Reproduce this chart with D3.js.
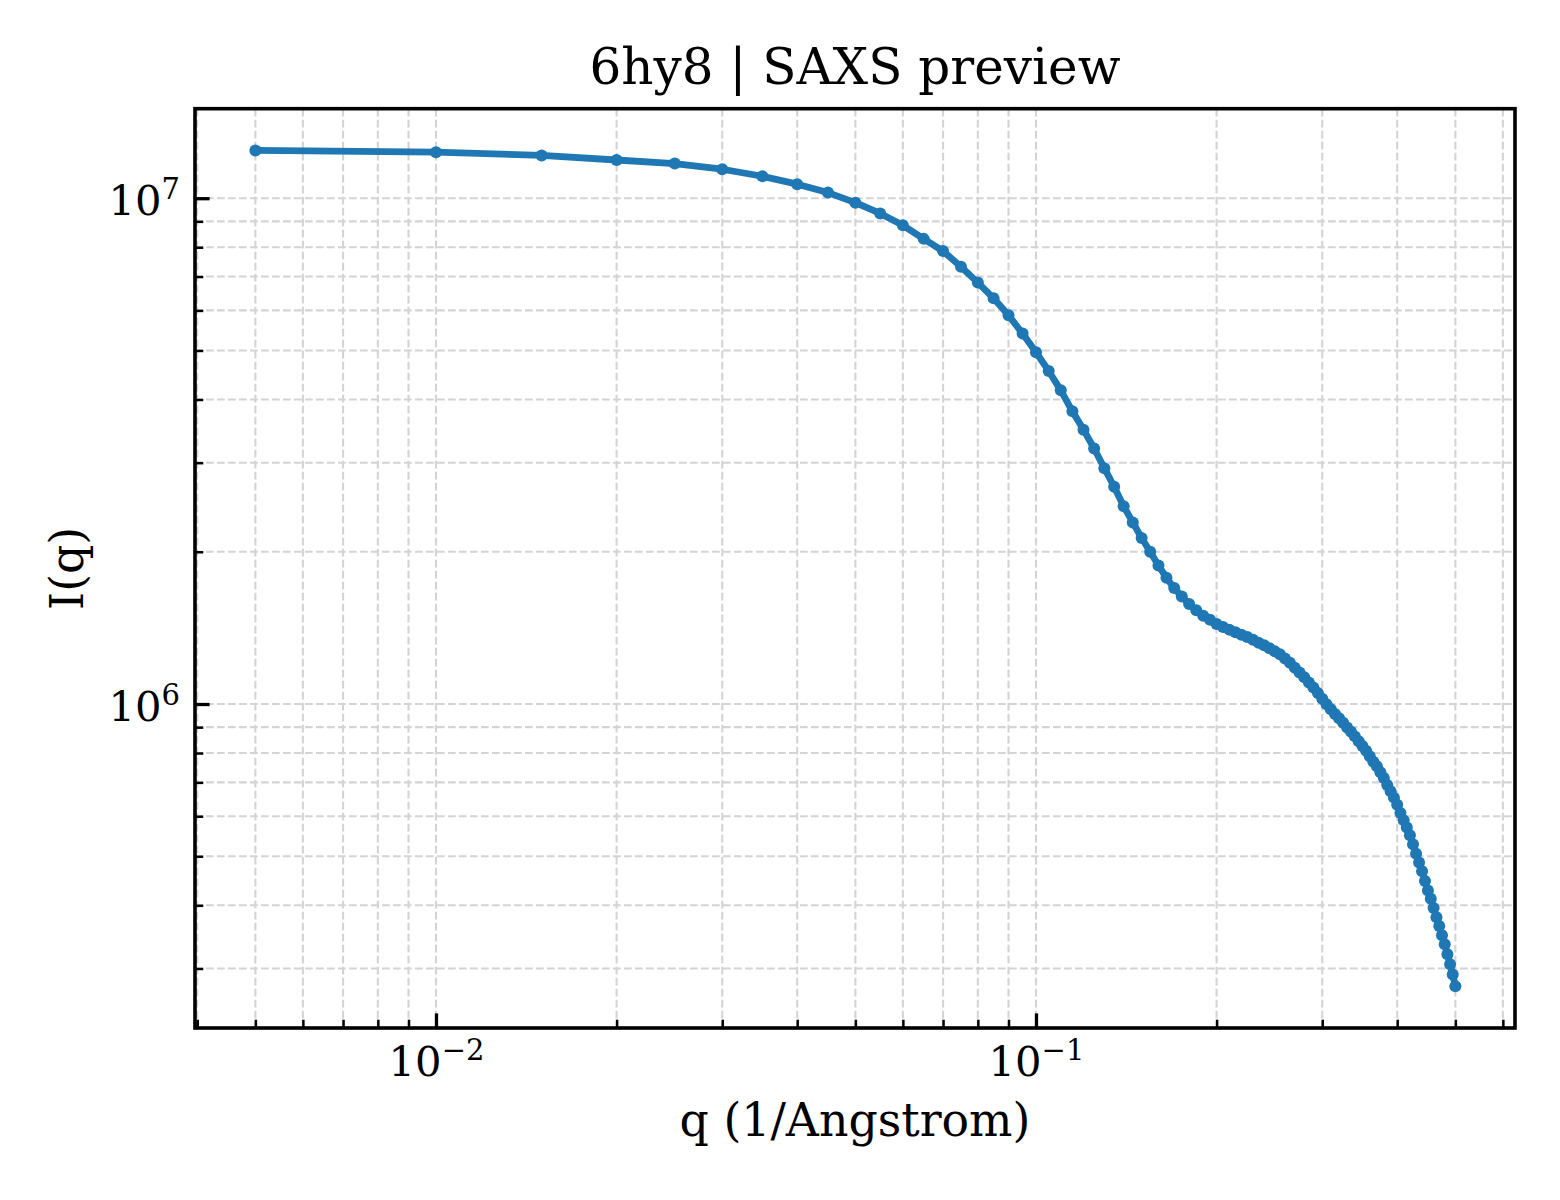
<!DOCTYPE html>
<html>
<head>
<meta charset="utf-8">
<script src="https://cdn.jsdelivr.net/npm/d3@7"></script>
<style>
    html, body { margin: 0; padding: 0; background: #fff; }
    svg text { font-family: "DejaVu Serif", serif; fill: #000; }
</style>
</head>
<body>
<svg class="svg-canvas" width="1560" height="1200"></svg>
<script>
//Scattering vector q (1/Angstrom)
var qValues = [
    0.005, 0.010, 0.015, 0.020, 0.025, 0.030, 0.035, 0.040, 0.045, 0.050,
    0.055, 0.060, 0.065, 0.070, 0.075, 0.080, 0.085, 0.090, 0.095, 0.100,
    0.105, 0.110, 0.115, 0.120, 0.125, 0.130, 0.135, 0.140, 0.145, 0.150,
    0.155, 0.160, 0.165, 0.170, 0.175, 0.180, 0.185, 0.190, 0.195, 0.200,
    0.205, 0.210, 0.215, 0.220, 0.225, 0.230, 0.235, 0.240, 0.245, 0.250,
    0.255, 0.260, 0.265, 0.270, 0.275, 0.280, 0.285, 0.290, 0.295, 0.300,
    0.305, 0.310, 0.315, 0.320, 0.325, 0.330, 0.335, 0.340, 0.345, 0.350,
    0.355, 0.360, 0.365, 0.370, 0.375, 0.380, 0.385, 0.390, 0.395, 0.400,
    0.405, 0.410, 0.415, 0.420, 0.425, 0.430, 0.435, 0.440, 0.445, 0.450,
    0.455, 0.460, 0.465, 0.470, 0.475, 0.480, 0.485, 0.490, 0.495, 0.500
];

//Scattered intensity I(q)
var intensity = [
    1.243e7, 1.233e7, 1.215e7, 1.190e7, 1.171e7, 1.141e7, 1.105e7, 1.066e7, 1.026e7, 9.80e6,
    9.33e6, 8.84e6, 8.31e6, 7.86e6, 7.32e6, 6.81e6, 6.34e6, 5.87e6, 5.40e6, 4.96e6,
    4.555e6, 4.17e6, 3.79e6, 3.487e6, 3.20e6, 2.926e6, 2.689e6, 2.461e6, 2.286e6, 2.129e6,
    2.000e6, 1.879e6, 1.776e6, 1.695e6, 1.632e6, 1.576e6, 1.532e6, 1.495e6, 1.467e6, 1.440e6,
    1.420e6, 1.403e6, 1.386e6, 1.371e6, 1.356e6, 1.340e6, 1.322e6, 1.306e6, 1.289e6, 1.272e6,
    1.254e6, 1.230e6, 1.206e6, 1.180e6, 1.154e6, 1.130e6, 1.103e6, 1.078e6, 1.051e6, 1.024e6,
    9.99e5, 9.76e5, 9.56e5, 9.37e5, 9.18e5, 8.99e5, 8.81e5, 8.63e5, 8.44e5, 8.26e5,
    8.08e5, 7.88e5, 7.69e5, 7.53e5, 7.33e5, 7.14e5, 6.92e5, 6.72e5, 6.53e5, 6.32e5,
    6.09e5, 5.89e5, 5.70e5, 5.50e5, 5.28e5, 5.06e5, 4.86e5, 4.67e5, 4.47e5, 4.28e5,
    4.12e5, 3.95e5, 3.79e5, 3.64e5, 3.49e5, 3.35e5, 3.20e5, 3.06e5, 2.92e5, 2.766e5
];

//Major ticks (labelled as powers of ten) and minor ticks
var xMajor = [0.01, 0.1];
var xMajorExp = ["\u22122", "\u22121"];
var xMinor = [0.004, 0.005, 0.006, 0.007, 0.008, 0.009,
              0.02, 0.03, 0.04, 0.05, 0.06, 0.07, 0.08, 0.09,
              0.2, 0.3, 0.4, 0.5, 0.6];
var yMajor = [1e6, 1e7];
var yMajorExp = ["6", "7"];
var yMinor = [3e5, 4e5, 5e5, 6e5, 7e5, 8e5, 9e5,
              2e6, 3e6, 4e6, 5e6, 6e6, 7e6, 8e6, 9e6];

//Texts
var titleText = "6hy8 | SAXS preview";
var xLabel = "q (1/Angstrom)";
var yLabel = "I(q)";

//Plot area inside the 1560x1200 figure
var margin = {left: 195, top: 108.7, right: 45, bottom: 172};
var w = 1560 - margin.left - margin.right;
var h = 1200 - margin.top - margin.bottom;
var blue = "#1f77b4";

var x = d3.scaleLog().domain([0.003966, 0.6286]).range([0, w]);
var y = d3.scaleLog().domain([2.288e5, 1.503e7]).range([h, 0]);

var svg = d3.select(".svg-canvas");
var plot = svg.append("g")
    .attr("transform", "translate(" + margin.left + "," + margin.top + ")");

//Dashed grid for both major and minor ticks
var grid = plot.append("g")
    .attr("stroke", "#d4d4d4")
    .attr("stroke-width", 2.1)
    .attr("stroke-dasharray", "7.7,3.3");
grid.selectAll(".gx").data(xMajor.concat(xMinor)).enter().append("line")
    .attr("x1", function(d){ return x(d); })
    .attr("x2", function(d){ return x(d); })
    .attr("y1", 0).attr("y2", h);
grid.selectAll(".gy").data(yMajor.concat(yMinor)).enter().append("line")
    .attr("y1", function(d){ return y(d); })
    .attr("y2", function(d){ return y(d); })
    .attr("x1", 0).attr("x2", w);

//Curve and markers
var points = qValues.map(function(q, i){ return [q, intensity[i]]; });
var line = d3.line()
    .x(function(d){ return x(d[0]); })
    .y(function(d){ return y(d[1]); });

plot.append("path")
    .datum(points)
    .attr("d", line)
    .attr("fill", "none")
    .attr("stroke", blue)
    .attr("stroke-width", 6.8)
    .attr("stroke-linejoin", "round");

plot.selectAll(".pt").data(points).enter().append("circle")
    .attr("cx", function(d){ return x(d[0]); })
    .attr("cy", function(d){ return y(d[1]); })
    .attr("r", 6)
    .attr("fill", blue);

//Axes: ticks point inward, only bottom and left
var styleAxis = function(g, width){
    g.select(".domain").remove();
    g.selectAll(".tick line").attr("stroke", "#000").attr("stroke-width", width);
};

plot.append("g")
    .attr("transform", "translate(0," + h + ")")
    .call(d3.axisBottom(x).tickValues(xMinor).tickSize(-8.3).tickFormat(""))
    .call(styleAxis, 2.5);
plot.append("g")
    .call(d3.axisLeft(y).tickValues(yMinor).tickSize(-8.3).tickFormat(""))
    .call(styleAxis, 2.5);

var xAxis = plot.append("g")
    .attr("transform", "translate(0," + h + ")")
    .call(d3.axisBottom(x).tickValues(xMajor).tickSize(-14.6).tickFormat(""))
    .call(styleAxis, 3.3);
var yAxis = plot.append("g")
    .call(d3.axisLeft(y).tickValues(yMajor).tickSize(-14.6).tickFormat(""))
    .call(styleAxis, 3.3);

//Tick labels written as 10 with a raised exponent
xAxis.selectAll(".tick").append("text")
    .attr("y", 48)
    .attr("text-anchor", "middle")
    .attr("font-size", 41.7)
    .each(function(d, i){
        var t = d3.select(this);
        t.append("tspan").text("10");
        t.append("tspan").attr("dy", -16).attr("font-size", 29).text(xMajorExp[i]);
    });
yAxis.selectAll(".tick").append("text")
    .attr("x", -15)
    .attr("y", 16)
    .attr("text-anchor", "end")
    .attr("font-size", 41.7)
    .each(function(d, i){
        var t = d3.select(this);
        t.append("tspan").text("10");
        t.append("tspan").attr("dy", -16).attr("font-size", 29).text(yMajorExp[i]);
    });

//Frame
plot.append("rect")
    .attr("width", w).attr("height", h)
    .attr("fill", "none")
    .attr("stroke", "#000")
    .attr("stroke-width", 3.6);

//Title and axis labels
svg.append("text")
    .attr("x", margin.left + w / 2)
    .attr("y", 84)
    .attr("text-anchor", "middle")
    .attr("font-size", 50)
    .text(titleText);

svg.append("text")
    .attr("x", margin.left + w / 2)
    .attr("y", 1136)
    .attr("text-anchor", "middle")
    .attr("font-size", 45.8)
    .text(xLabel);

svg.append("text")
    .attr("transform", "translate(83," + (margin.top + h / 2) + ") rotate(-90)")
    .attr("text-anchor", "middle")
    .attr("font-size", 45.8)
    .text(yLabel);
</script>
</body>
</html>
